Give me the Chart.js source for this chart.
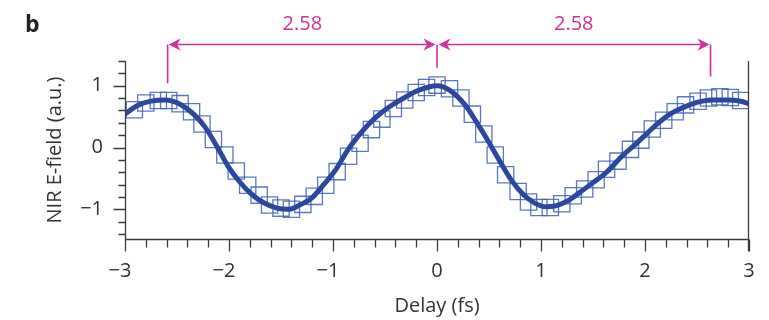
<!DOCTYPE html>
<html>
<head>
<meta charset="utf-8">
<script src="https://cdn.jsdelivr.net/npm/chart.js@4/dist/chart.umd.min.js"></script>
<style>
  html, body { margin: 0; padding: 0; background: #fff; }
  canvas { display: block; }
</style>
</head>
<body>
<canvas id="nir-field-chart" width="769" height="320"></canvas>
<script>
// measured NIR field (squares)
const delays = [-2.91, -2.80, -2.68, -2.58, -2.47, -2.36, -2.26, -2.15, -2.04, -1.93, -1.82,
  -1.71, -1.61, -1.50, -1.40, -1.29, -1.18, -1.07, -0.96, -0.85, -0.74, -0.63, -0.53, -0.42,
  -0.31, -0.20, -0.10, 0.00, 0.12, 0.23, 0.34, 0.45, 0.56, 0.66, 0.78, 0.88, 0.98, 1.09, 1.20,
  1.31, 1.42, 1.53, 1.63, 1.74, 1.86, 1.96, 2.07, 2.18, 2.29, 2.39, 2.51, 2.61, 2.72, 2.82, 2.92];
const field = [0.61, 0.72, 0.76, 0.76, 0.71, 0.58, 0.38, 0.13, -0.12, -0.38, -0.61,
  -0.77, -0.93, -0.98, -1.00, -0.92, -0.79, -0.61, -0.39, -0.14, 0.07, 0.29, 0.46, 0.63,
  0.77, 0.89, 0.97, 1.01, 0.95, 0.80, 0.54, 0.22, -0.12, -0.44, -0.71, -0.88, -0.97, -0.97, -0.91,
  -0.78, -0.67, -0.52, -0.35, -0.22, -0.03, 0.12, 0.30, 0.44, 0.58, 0.69, 0.75, 0.80, 0.82, 0.81, 0.76];

// fitted curve (thick line)
const fitDelays = [-3.00, -2.88, -2.75, -2.61, -2.47, -2.34, -2.23, -2.12, -2.01, -1.89, -1.78,
  -1.67, -1.54, -1.43, -1.32, -1.20, -1.09, -0.97, -0.87, -0.76, -0.65, -0.53, -0.42, -0.31,
  -0.20, -0.08, 0.00, 0.12, 0.27, 0.38, 0.49, 0.61, 0.72, 0.83, 0.94, 1.05, 1.15, 1.26, 1.37,
  1.49, 1.63, 1.79, 1.90, 2.02, 2.13, 2.24, 2.37, 2.50, 2.64, 2.79, 2.92, 3.00];
const fitField = [0.54, 0.68, 0.75, 0.77, 0.70, 0.54, 0.33, 0.03, -0.30, -0.57, -0.76,
  -0.89, -0.98, -1.00, -0.93, -0.81, -0.60, -0.35, -0.07, 0.18, 0.39, 0.57, 0.70, 0.81,
  0.91, 0.98, 1.00, 0.93, 0.69, 0.41, 0.11, -0.24, -0.54, -0.76, -0.90, -0.96, -0.94, -0.86, -0.73,
  -0.58, -0.40, -0.12, 0.04, 0.23, 0.40, 0.54, 0.65, 0.73, 0.77, 0.77, 0.75, 0.71];

// axes
const xLabels = [-3, -2, -1, 0, 1, 2, 3];
const yLabels = [-1, 0, 1];
const xTickMarks = [-3, -2.8, -2.6, -2.4, -2.2, -2, -1.8, -1.6, -1.4, -1.2, -1, -0.8, -0.6, -0.4,
  -0.2, 0, 0.2, 0.4, 0.6, 0.8, 1, 1.2, 1.4, 1.6, 1.8, 2, 2.2, 2.4, 2.6, 2.8, 3];
const yTickMarks = [-1.4, -1.2, -1, -0.8, -0.6, -0.4, -0.2, 0, 0.2, 0.4, 0.6, 0.8, 1, 1.2, 1.4];

// period markers: delays of the peaks, height of the arrow, foot of each marker line
const peakDelays = [-2.59, 0, 2.63];
const periodLabels = ['2.58', '2.58'];
const arrowLevel = 1.676;
const markerFoot = [1.04, 1.29, 1.15];
const labelLevel = 2.0;

const AXIS = '#3a3a3a';
const TEXT = '#333333';
const LINE = '#2c479f';
const SQUARE = 'rgba(62, 96, 186, 0.85)';
const MAGENTA = '#d1309a';
const FONT = "'Open Sans', 'Noto Sans', sans-serif";

function minus(v) {
  return v < 0 ? '\u2212' + Math.abs(v) : String(v);
}

function arrowHead(ctx, tx, ty, dir) {
  const L = 12, W = 6;
  ctx.beginPath();
  ctx.moveTo(tx, ty);
  ctx.lineTo(tx - dir * L, ty - W);
  ctx.lineTo(tx - dir * L * 0.7, ty);
  ctx.lineTo(tx - dir * L, ty + W);
  ctx.closePath();
  ctx.fill();
}

// axis frame, tick marks, panel letter and period arrows
const framePlugin = {
  id: 'frame',
  afterDraw(chart) {
    const { ctx, chartArea: a, scales: { x, y } } = chart;
    const L = Math.round(a.left) + 0.5, R = Math.round(a.right) - 0.5;
    const T = Math.round(a.top), B = Math.round(a.bottom) + 0.5;
    ctx.save();
    ctx.strokeStyle = AXIS;
    ctx.lineWidth = 1.3;
    ctx.beginPath();
    ctx.moveTo(L, T); ctx.lineTo(L, B + 12);
    ctx.moveTo(L, B); ctx.lineTo(R, B);
    ctx.moveTo(R, T); ctx.lineTo(R, B + 12);
    yTickMarks.forEach(function(v) {
      const py = Math.round(y.getPixelForValue(v)) + 0.5;
      const len = Number.isInteger(v) ? 12 : 7;
      ctx.moveTo(L - len, py); ctx.lineTo(L, py);
    });
    xTickMarks.forEach(function(v) {
      const px = Math.round(x.getPixelForValue(v)) + 0.5;
      const len = Number.isInteger(v) ? 12 : 8;
      ctx.moveTo(px, B); ctx.lineTo(px, B + len);
    });
    ctx.stroke();

    // panel letter
    ctx.fillStyle = '#222';
    ctx.font = "bold 23px " + FONT;
    ctx.textAlign = 'left';
    ctx.textBaseline = 'alphabetic';
    ctx.fillText('b', 25, 32);

    // period arrows
    ctx.strokeStyle = MAGENTA;
    ctx.fillStyle = MAGENTA;
    ctx.lineWidth = 1.6;
    const ay = Math.round(y.getPixelForValue(arrowLevel)) + 0.5;
    const px = peakDelays.map(function(d) { return x.getPixelForValue(d); });
    ctx.beginPath();
    px.forEach(function(p, i) {
      ctx.moveTo(p, ay);
      ctx.lineTo(p, y.getPixelForValue(markerFoot[i]));
    });
    ctx.moveTo(px[0] + 4, ay); ctx.lineTo(px[1] - 4, ay);
    ctx.moveTo(px[1] + 4, ay); ctx.lineTo(px[2] - 4, ay);
    ctx.stroke();
    arrowHead(ctx, px[0] + 1, ay, -1);
    arrowHead(ctx, px[1] - 1.5, ay, 1);
    arrowHead(ctx, px[1] + 1.5, ay, -1);
    arrowHead(ctx, px[2] - 1, ay, 1);

    ctx.font = "20px " + FONT;
    ctx.textAlign = 'center';
    ctx.textBaseline = 'middle';
    const ly = y.getPixelForValue(labelLevel);
    periodLabels.forEach(function(t, i) {
      ctx.fillText(t, (px[i] + px[i + 1]) / 2, ly);
    });
    ctx.restore();
  }
};

const ctx = document.getElementById('nir-field-chart').getContext('2d');

new Chart(ctx, {
  type: 'scatter',
  data: {
    datasets: [
      {
        type: 'line',
        label: 'Fit',
        data: fitDelays.map(function(d, i) { return { x: d, y: fitField[i] }; }),
        borderColor: LINE,
        borderWidth: 5,
        pointRadius: 0,
        cubicInterpolationMode: 'monotone',
        fill: false,
        order: 0
      },
      {
        label: 'Measured',
        data: delays.map(function(d, i) { return { x: d, y: field[i] }; }),
        pointStyle: 'rect',
        pointRadius: 11.5,
        pointBorderColor: SQUARE,
        pointBorderWidth: 1.3,
        pointBackgroundColor: 'rgba(0,0,0,0)',
        showLine: false,
        order: 1
      }
    ]
  },
  options: {
    responsive: false,
    animation: false,
    devicePixelRatio: 1,
    layout: {
      autoPadding: false,
      padding: { top: 61, right: 20, left: 0, bottom: 0 }
    },
    plugins: {
      legend: { display: false },
      tooltip: { enabled: false }
    },
    scales: {
      x: {
        type: 'linear',
        min: -3,
        max: 3,
        afterBuildTicks: function(scale) {
          scale.ticks = xLabels.map(function(v) { return { value: v }; });
        },
        afterFit: function(scale) {
          scale.height = 81;
          scale.paddingLeft = 0;
          scale.paddingRight = 0;
        },
        grid: { display: false, drawTicks: false },
        border: { display: false },
        ticks: {
          autoSkip: false,
          maxRotation: 0,
          padding: 20,
          color: TEXT,
          font: { family: FONT, size: 20 },
          callback: function(v) { return v < 0 ? minus(v) + '\u2002' : minus(v); }
        },
        title: {
          display: true,
          text: 'Delay (fs)',
          color: TEXT,
          font: { family: FONT, size: 20 },
          padding: { top: 0, bottom: 2 }
        }
      },
      y: {
        type: 'linear',
        min: -1.48,
        max: 1.4,
        afterBuildTicks: function(scale) {
          scale.ticks = yLabels.map(function(v) { return { value: v }; });
        },
        afterFit: function(scale) { scale.width = 125; },
        grid: { display: false, drawTicks: false },
        border: { display: false },
        ticks: {
          padding: 22,
          color: TEXT,
          font: { family: FONT, size: 20 },
          callback: function(v) { return minus(v); }
        },
        title: {
          display: true,
          text: 'NIR E-field (a.u.)',
          color: TEXT,
          font: { family: FONT, size: 20 },
          padding: { top: 43, bottom: 0 }
        }
      }
    }
  },
  plugins: [framePlugin]
});
</script>
</body>
</html>
